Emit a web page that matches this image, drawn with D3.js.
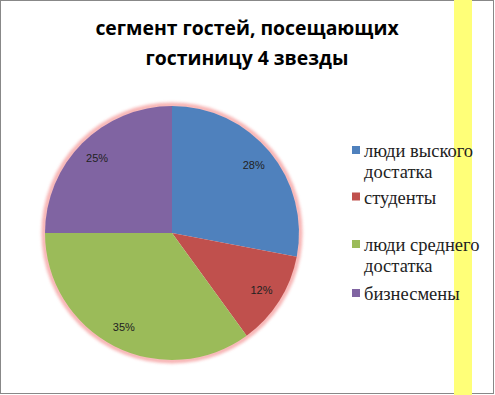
<!DOCTYPE html>
<html>
<head>
  <meta charset="utf-8">
  <script src="https://d3js.org/d3.v7.min.js"></script>
  <style>
    body { margin: 0; background: #fff; }
    svg { display: block; }
  </style>
</head>
<body>
  <svg width="495" height="395"></svg>
  <script>
    // chart data
    const categories = ["люди выского достатка", "студенты", "люди среднего достатка", "бизнесмены"];
    const legendLines = [["люди выского", "достатка"], ["студенты"], ["люди среднего", "достатка"], ["бизнесмены"]];
    const values = [28, 12, 35, 25];
    const colors = ["#4f81bd", "#c0504d", "#9bbb59", "#8064a2"];
    const titleLines = ["сегмент гостей, посещающих", "гостиницу 4 звезды"];

    const svg = d3.select("svg");

    // frame
    svg.append("rect")
      .attr("x", 0.5).attr("y", 0.5)
      .attr("width", 493).attr("height", 393)
      .attr("fill", "#fff")
      .attr("stroke", "#888");

    // yellow band on the right
    svg.append("rect")
      .attr("x", 454).attr("y", 0)
      .attr("width", 18).attr("height", 395)
      .attr("fill", "#ffff78");

    // title
    svg.selectAll("text.title")
      .data(titleLines)
      .join("text")
      .attr("class", "title")
      .attr("x", 247)
      .attr("y", (d, i) => 35 + i * 30)
      .attr("text-anchor", "middle")
      .style("font-family", "'Open Sans', sans-serif")
      .style("font-weight", "bold")
      .style("font-size", "19.4px")
      .text(d => d);

    // pie
    const cx = 172, cy = 233, r = 127;
    const pie = d3.pie().sort(null).value(d => d)(values);
    const arc = d3.arc().innerRadius(0).outerRadius(r);
    const labelArc = d3.arc().innerRadius(106).outerRadius(106);

    const defs = svg.append("defs");
    defs.append("filter").attr("id", "glow")
      .attr("x", "-20%").attr("y", "-20%").attr("width", "140%").attr("height", "140%")
      .append("feGaussianBlur").attr("stdDeviation", 1.5);

    const g = svg.append("g").attr("transform", `translate(${cx},${cy})`);

    // soft pink glow around the pie
    g.append("circle")
      .attr("r", r + 1)
      .attr("fill", "none")
      .attr("stroke", "#f49a9a")
      .attr("stroke-width", 5)
      .attr("opacity", 0.75)
      .attr("filter", "url(#glow)");

    g.selectAll("path.slice")
      .data(pie)
      .join("path")
      .attr("class", "slice")
      .attr("d", arc)
      .attr("fill", (d, i) => colors[i]);

    g.selectAll("text.pct")
      .data(pie)
      .join("text")
      .attr("class", "pct")
      .attr("transform", d => `translate(${labelArc.centroid(d)})`)
      .attr("text-anchor", "middle")
      .attr("dy", "0.35em")
      .style("font-family", "'Liberation Sans', Arial, sans-serif")
      .style("font-size", "11px")
      .attr("fill", "#222")
      .text(d => d.data + "%");

    // legend
    const legendY = [157, 203.5, 251, 300];
    const legend = svg.append("g");
    categories.forEach((c, i) => {
      const y = legendY[i];
      legend.append("rect")
        .attr("x", 352).attr("y", y - 11)
        .attr("width", 8).attr("height", 8)
        .attr("fill", colors[i]);
      legendLines[i].forEach((line, j) => {
        legend.append("text")
          .attr("x", 364)
          .attr("y", y + j * 21)
          .style("font-family", "'Liberation Serif'")
          .style("font-size", "18.5px")
          .style("fill", "#222")
          .text(line);
      });
    });
  </script>
</body>
</html>
